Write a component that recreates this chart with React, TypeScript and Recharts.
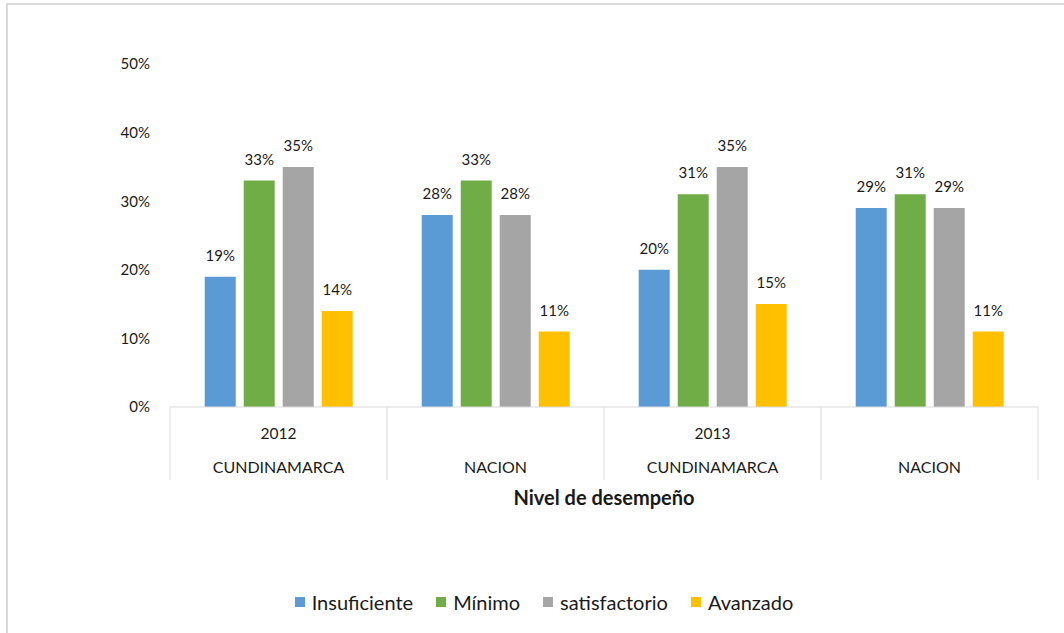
import React from "react";
import {
  BarChart,
  Bar,
  XAxis,
  YAxis,
  Legend,
  LabelList,
} from "recharts";

const categories = ["CUNDINAMARCA", "NACION", "CUNDINAMARCA", "NACION"];
const years = ["2012", "2012", "2013", "2013"];

const insuficiente = [19, 28, 20, 29];
const minimo = [33, 33, 31, 31];
const satisfactorio = [35, 28, 35, 29];
const avanzado = [14, 11, 15, 11];

const yTicks = [0, 10, 20, 30, 40, 50];

const series = [
  { key: "insuficiente", name: "Insuficiente", color: "#5B9BD5" },
  { key: "minimo", name: "Mínimo", color: "#70AD47" },
  { key: "satisfactorio", name: "satisfactorio", color: "#A5A5A5" },
  { key: "avanzado", name: "Avanzado", color: "#FFC000" },
];

const data = categories.map((name, i) => ({
  name,
  year: years[i],
  insuficiente: insuficiente[i],
  minimo: minimo[i],
  satisfactorio: satisfactorio[i],
  avanzado: avanzado[i],
}));

const WIDTH = 1064;
const HEIGHT = 633;
const MARGIN = { top: 64, right: 26, bottom: 16, left: 110 };
const Y_AXIS_W = 60;
const FONT = "Lato, 'Open Sans', sans-serif";
const TEXT = "#1a1a1a";
const AXIS = "#D9D9D9";

const band = (WIDTH - MARGIN.left - MARGIN.right - Y_AXIS_W) / categories.length;

const CategoryTick = (props: any) => {
  const { x, y, payload } = props;
  const i = payload.index;
  const showYear = i === 0 || (i > 0 && years[i] !== years[i - 1]);
  return (
    <g>
      <line x1={x - band / 2} y1={y} x2={x - band / 2} y2={y + 73} stroke={AXIS} />
      {i === categories.length - 1 && (
        <line x1={x + band / 2} y1={y} x2={x + band / 2} y2={y + 73} stroke={AXIS} />
      )}
      {showYear && (
        <text x={x} y={y + 32} textAnchor="middle" fontSize={15.5} fill={TEXT} fontFamily={FONT}>
          {years[i]}
        </text>
      )}
      <text x={x} y={y + 66} textAnchor="middle" fontSize={16} fill={TEXT} fontFamily={FONT}>
        {payload.value}
      </text>
    </g>
  );
};

const LegendContent = () => (
  <div
    style={{
      display: "flex",
      justifyContent: "center",
      alignItems: "center",
      height: 30,
      paddingRight: 37,
      fontFamily: FONT,
      fontSize: 20,
      color: TEXT,
    }}
  >
    {series.map((s) => (
      <div key={s.key} style={{ display: "flex", alignItems: "center", marginRight: 23 }}>
        <span style={{ width: 10, height: 10, background: s.color, display: "inline-block", marginRight: 7 }} />
        <span>{s.name}</span>
      </div>
    ))}
  </div>
);

export default function App() {
  return (
    <div style={{ position: "absolute", left: 0, top: 0, width: WIDTH, height: HEIGHT, overflow: "hidden", background: "#fff" }}>
      <div style={{ position: "absolute", left: 6, top: 3, width: WIDTH, height: HEIGHT, border: `2px solid ${AXIS}` }} />
      <div style={{ position: "absolute", left: 0, top: 0 }}>
        <BarChart
          width={WIDTH}
          height={HEIGHT}
          data={data}
          margin={MARGIN}
          barCategoryGap="16%"
          barGap={8}
        >
          <XAxis
            dataKey="name"
            height={180}
            axisLine={{ stroke: AXIS }}
            tickLine={false}
            tickSize={0}
            tickMargin={0}
            interval={0}
            tick={<CategoryTick />}
            label={{
              value: "Nivel de desempeño",
              position: "insideTop",
              offset: 84,
              fontSize: 20,
              fontWeight: "bold",
              fill: TEXT,
              fontFamily: FONT,
            }}
          />
          <YAxis
            width={Y_AXIS_W}
            domain={[0, 50]}
            ticks={yTicks}
            axisLine={false}
            tickLine={false}
            tickSize={0}
            tickMargin={20}
            tickFormatter={(v: number) => `${v}%`}
            tick={{ fontSize: 15, fill: TEXT, fontFamily: FONT }}
          />
          <Legend verticalAlign="bottom" height={30} content={<LegendContent />} />
          {series.map((s) => (
            <Bar key={s.key} dataKey={s.key} name={s.name} fill={s.color} isAnimationActive={false}>
              <LabelList
                dataKey={s.key}
                position="top"
                offset={16}
                formatter={(v: any) => `${v}%`}
                style={{ fontSize: 15, fill: TEXT, fontFamily: FONT }}
              />
            </Bar>
          ))}
        </BarChart>
      </div>
    </div>
  );
}
